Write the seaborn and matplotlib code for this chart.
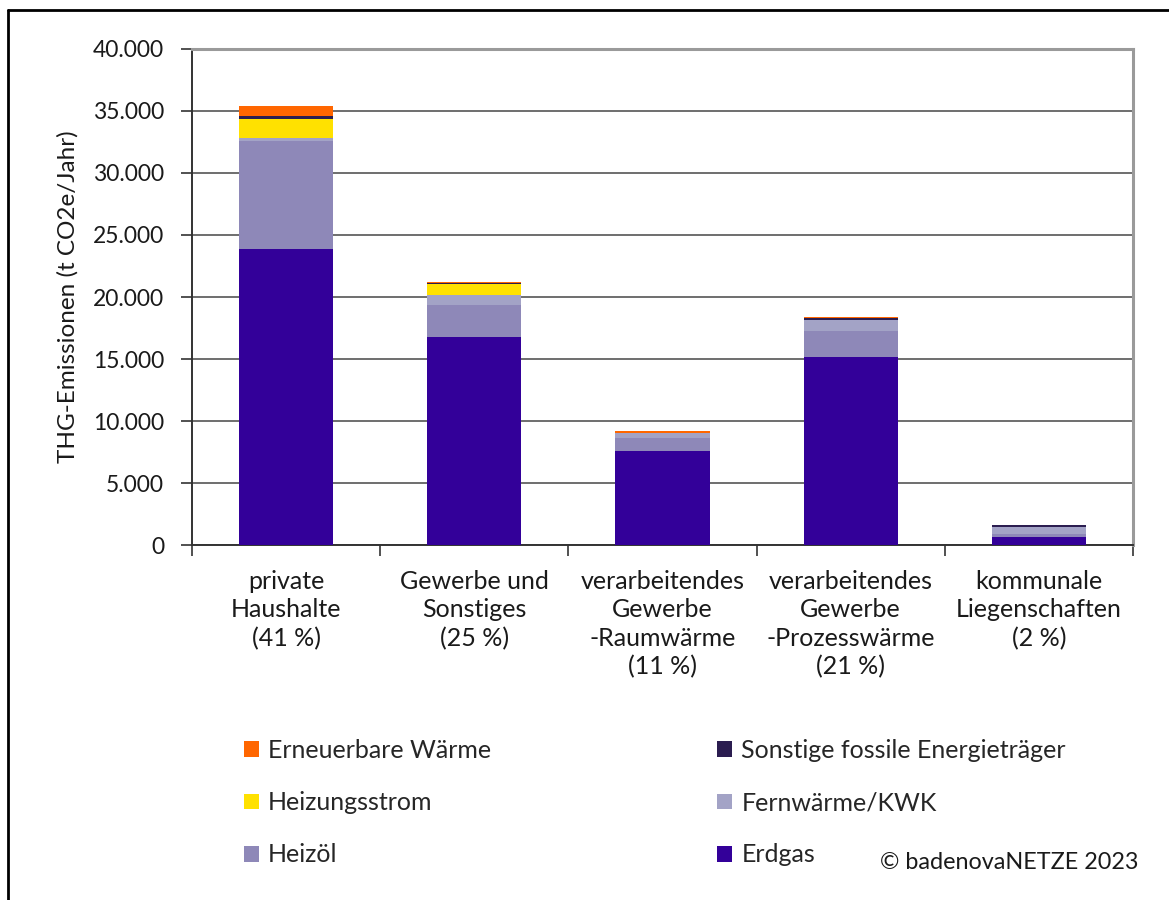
import matplotlib
matplotlib.use('Agg')
import matplotlib.pyplot as plt
from matplotlib.patches import Patch
from matplotlib.lines import Line2D
import pandas as pd
import seaborn as sns

# Data (t CO2e/Jahr)
sektoren = ['private\nHaushalte\n(41 %)', 'Gewerbe und\nSonstiges\n(25 %)',
            'verarbeitendes\nGewerbe\n-Raumwärme\n(11 %)',
            'verarbeitendes\nGewerbe\n-Prozesswärme\n(21 %)',
            'kommunale\nLiegenschaften\n(2 %)']
erdgas = [23900, 16800, 7580, 15200, 670]
heizoel = [8700, 2520, 1020, 2080, 200]
fernwaerme = [200, 860, 400, 870, 620]
heizungsstrom = [1530, 880, 0, 0, 0]
sonstige = [270, 30, 60, 130, 100]
erneuerbare = [800, 90, 110, 110, 0]

traeger = ['Erdgas', 'Heizöl', 'Fernwärme/KWK', 'Heizungsstrom',
           'Sonstige fossile Energieträger', 'Erneuerbare Wärme']
farben = ['#330099', '#8E88B8', '#A3A3C6', '#FFE100', '#2B1D50', '#FF6600']

df = pd.DataFrame({'Sektor': sektoren, 'Erdgas': erdgas, 'Heizöl': heizoel,
                   'Fernwärme/KWK': fernwaerme, 'Heizungsstrom': heizungsstrom,
                   'Sonstige fossile Energieträger': sonstige,
                   'Erneuerbare Wärme': erneuerbare})
cum = df[traeger].cumsum(axis=1)

sns.set_theme(style='white')
plt.rcParams['font.family'] = ['Lato', 'DejaVu Sans']

fig = plt.figure(figsize=(11.69, 9.0), dpi=100)
ax = fig.add_axes([0.1642, 0.3944, 0.805, 0.5512])

# stacked bars: draw cumulative totals from the top layer down
for t, c in zip(reversed(traeger), reversed(farben)):
    sns.barplot(x=df['Sektor'], y=cum[t], color=c, width=0.5, ax=ax,
                saturation=1, linewidth=0, zorder=3)

ax.set_ylim(0, 40000)
ax.set_xlim(-0.5, 4.5)
ax.set_yticks(range(0, 40001, 5000))
ax.set_yticklabels([f'{v:,}'.replace(',', '.') for v in range(0, 40001, 5000)],
                   fontsize=16.5, color='#1a1a1a')
ax.yaxis.grid(True, color='#6e6e6e', linewidth=1.4, zorder=0)
ax.set_axisbelow(True)
ax.tick_params(axis='y', left=True, length=8, width=1.2, color='#333333', pad=12)

ax.set_xticks(range(5))
ax.set_xticklabels(sektoren, fontsize=18, color='#1a1a1a', va='top',
                   linespacing=1.28)
ax.set_xticks([i - 0.5 for i in range(6)], minor=True)
ax.tick_params(axis='x', which='major', length=0, pad=18)
ax.tick_params(axis='x', which='minor', bottom=True, length=8, width=1.2,
               color='#333333')
ax.set_xlabel('')
ax.set_ylabel('THG-Emissionen (t CO2e/Jahr)', fontsize=17.5, color='#1a1a1a',
              labelpad=10)

for s in ['left', 'bottom']:
    ax.spines[s].set_color('#333333')
    ax.spines[s].set_linewidth(1.4)
for s in ['top', 'right']:
    ax.spines[s].set_color('#9a9a9a')
    ax.spines[s].set_linewidth(2.2)

# legend: two columns
order = ['Erneuerbare Wärme', 'Heizungsstrom', 'Heizöl',
         'Sonstige fossile Energieträger', 'Fernwärme/KWK', 'Erdgas']
handles = [Patch(facecolor=farben[traeger.index(o)], edgecolor='none', label=o)
           for o in order]
fig.legend(handles=handles, loc='upper left', bbox_to_anchor=(0.2, 0.19),
           ncol=2, frameon=False, fontsize=18, handlelength=0.6,
           handleheight=0.6, handletextpad=0.36, labelspacing=1.17,
           columnspacing=9.06, borderaxespad=0)

fig.text(0.9735, 0.042, '© badenovaNETZE 2023', ha='right', va='center',
         fontsize=16.8, color='#1a1a1a')

# figure frame (left and top)
fig.add_artist(Line2D([0.007, 0.007], [0.0, 0.989], color='black', linewidth=2,
                      transform=fig.transFigure))
fig.add_artist(Line2D([0.007, 1.0], [0.989, 0.989], color='black', linewidth=2,
                      transform=fig.transFigure))

fig.savefig('out.png', dpi=100)
